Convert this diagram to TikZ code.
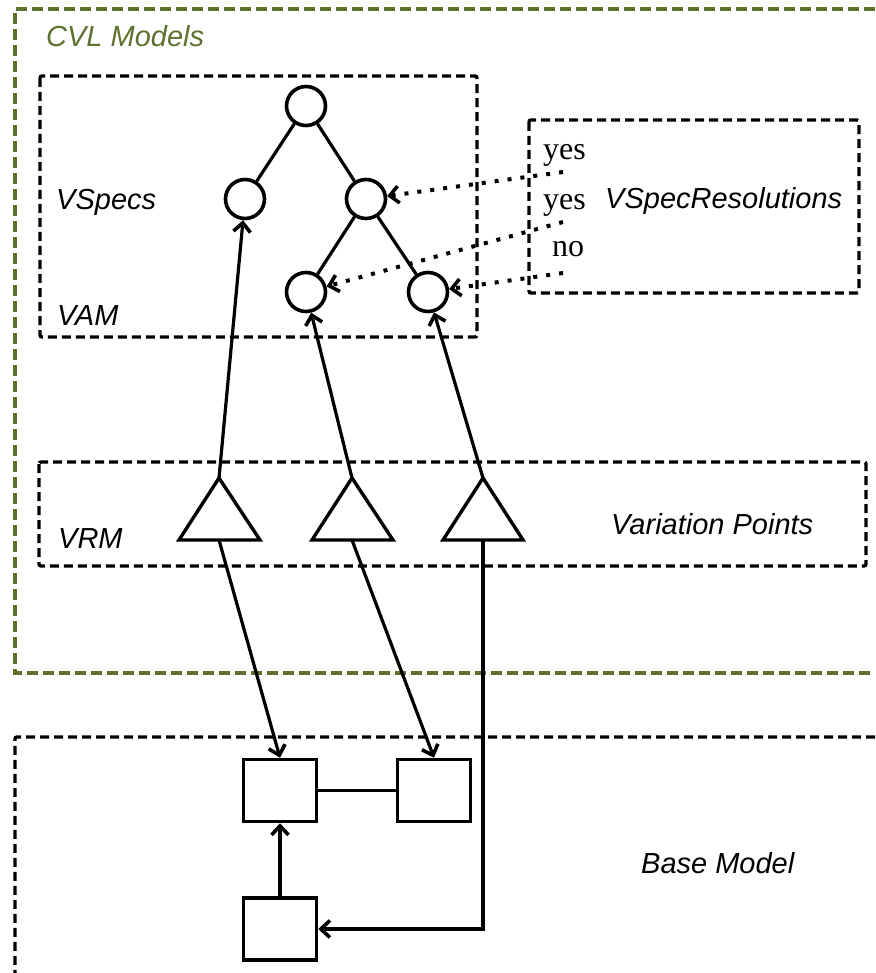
\documentclass[tikz,border=0pt]{standalone}
\usepackage{fontspec}
\setmainfont{Liberation Serif}
\setsansfont{Liberation Sans}
\usetikzlibrary{arrows.meta}
\definecolor{cvlgreen}{RGB}{94,114,46}
\begin{document}
\begin{tikzpicture}[x=1pt,y=-1pt,
  frame/.style={draw, line width=3.4pt, dash pattern=on 9pt off 5pt, rounded corners=2pt},
  greenframe/.style={draw=cvlgreen, line width=3.4pt, dash pattern=on 11pt off 5pt},
  vspec/.style={circle, draw, line width=3.6pt, minimum size=39pt, inner sep=0pt},
  elem/.style={rectangle, draw, line width=3.6pt, minimum width=73pt, minimum height=62pt, inner sep=0pt},
  vpoint/.style={draw, line width=3.4pt, line join=miter},
  link/.style={line width=3.2pt},
  arr/.style={link, -{Straight Barb[length=9pt,width=17pt,line width=3.6pt]}},
  res/.style={line width=4pt, dash pattern=on 4pt off 9pt,
              -{Straight Barb[length=9pt,width=17pt,line width=3.6pt]}},
  lbl/.style={font=\sffamily\itshape\fontsize{29}{32}\selectfont, anchor=base west, inner sep=0pt},
  choice/.style={font=\fontsize{32}{34}\selectfont, anchor=base west, inner sep=0pt}
]
\useasboundingbox (0,0) rectangle (875,973);

% containers
\draw[greenframe] (875,9) -- (15,9) -- (15,673) -- (875,673);
\draw[frame] (875,737) -- (15,737) -- (15,973);
\draw[frame] (40,76) rectangle (477,337);
\draw[frame] (529,120) rectangle (859,293);
\draw[frame] (39,462) rectangle (866,566);

% labels
\node[lbl, text=cvlgreen] (cvl) at (46,47) {CVL Models};
\node[lbl] (vspecs) at (56,210) {VSpecs};
\node[lbl] (vam) at (57,325) {VAM};
\node[lbl] (vrm) at (58,548) {VRM};
\node[lbl] (vps) at (611,534) {Variation Points};
\node[lbl] (base) at (641,873) {Base Model};
\node[lbl] (resol) at (605,209) {VSpecResolutions};
\node[choice] (y1) at (543,160) {yes};
\node[choice] (y2) at (543,210) {yes};
\node[choice] (n1) at (552,257) {no};

% VSpec tree
\node[vspec] (root) at (306,106) {};
\node[vspec] (vl) at (245,199) {};
\node[vspec] (vr) at (366,199) {};
\node[vspec] (vrl) at (306,292) {};
\node[vspec] (vrr) at (428,292) {};
\draw[link] (root) -- (vl);
\draw[link] (root) -- (vr);
\draw[link] (vr) -- (vrl);
\draw[link] (vr) -- (vrr);

% resolutions
\coordinate (r1) at (563,172);
\coordinate (r2) at (563,222);
\coordinate (r3) at (563,273);
\draw[res] (r1) -- (vr);
\draw[res] (r2) -- (vrl);
\draw[res] (r3) -- (vrr);

% variation points
\coordinate (t1a) at (219,478); \coordinate (t1b) at (219,540);
\coordinate (t2a) at (352,478); \coordinate (t2b) at (352,540);
\coordinate (t3a) at (483,478); \coordinate (t3b) at (483,540);
\draw[vpoint] (t1a) -- (179,540) -- (260,540) -- cycle;
\draw[vpoint] (t2a) -- (312,540) -- (393,540) -- cycle;
\draw[vpoint] (t3a) -- (443,540) -- (523,540) -- cycle;

% base model elements
\node[elem] (e1) at (280,790.5) {};
\node[elem] (e2) at (434,790.5) {};
\node[elem] (e3) at (280,929) {};
\draw[link] (e1) -- (e2);
\draw[arr] (e3) -- (e1);

% bindings
\draw[arr] (t1a) -- (vl);
\draw[arr] (t2a) -- (vrl);
\draw[arr] (t3a) -- (vrr);
\draw[arr] (t1b) -- (e1.north);
\draw[arr] (t2b) -- (e2.north);
\draw[arr] (t3b) |- (e3.east);
\end{tikzpicture}
\end{document}
